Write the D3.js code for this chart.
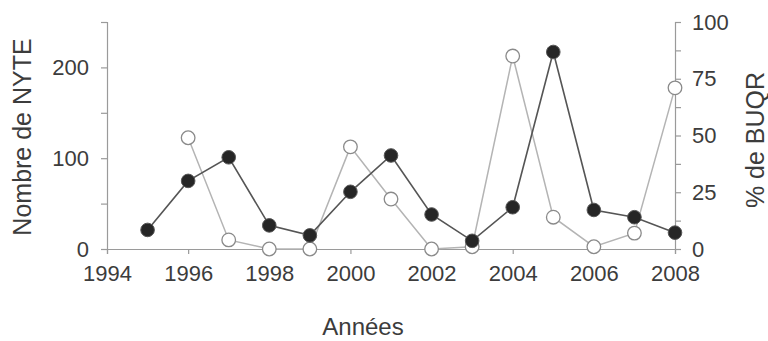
<!DOCTYPE html>
<html>
<head>
<meta charset="utf-8">
<script src="https://cdn.jsdelivr.net/npm/d3@7/dist/d3.min.js"></script>
<style>
  html, body { margin: 0; padding: 0; background: #fff; }
  svg { display: block; font-family: Arial, "Liberation Sans", sans-serif; }
</style>
</head>
<body>
<svg id="chart" width="768" height="341"></svg>
<script>
// Yearly series
const years = [1995, 1996, 1997, 1998, 1999, 2000, 2001, 2002, 2003, 2004, 2005, 2006, 2007, 2008];
const nyteCount = [21, 75, 101, 26, 15, 63, 103, 38, 9, 46, 217, 43, 35, 18];
const buqrYears = [1996, 1997, 1998, 1999, 2000, 2001, 2002, 2003, 2004, 2005, 2006, 2007, 2008];
const buqrPct = [49, 4, 0, 0, 45, 22, 0, 1, 85, 14, 1, 7, 71];

const xTicks = [1994, 1996, 1998, 2000, 2002, 2004, 2006, 2008];
const leftTicks = [0, 50, 100, 150, 200, 250];
const leftLabels = [0, 100, 200];
const rightTicks = [0, 12.5, 25, 37.5, 50, 62.5, 75, 87.5, 100];
const rightLabels = [0, 25, 50, 75, 100];

const svg = d3.select("#chart");
const plot = { left: 107, right: 675, top: 22, bottom: 249 };

const x = d3.scaleLinear().domain([1994, 2008]).range([plot.left, plot.right]);
const yL = d3.scaleLinear().domain([0, 250]).range([plot.bottom, plot.top]);
const yR = d3.scaleLinear().domain([0, 100]).range([plot.bottom, plot.top]);

const axisColor = "#9a9a9a";
const textColor = "#3c3c3c";

function styleAxis(g) {
  g.select(".domain").attr("stroke", axisColor).attr("stroke-width", 1.2);
  g.selectAll(".tick line").attr("stroke", axisColor).attr("stroke-width", 1.2);
  g.selectAll(".tick text").attr("fill", textColor).attr("font-size", 22);
}

// Bottom axis
svg.append("g")
  .attr("transform", `translate(0,${plot.bottom})`)
  .call(d3.axisBottom(x).tickValues(xTicks).tickFormat(d3.format("d")).tickSizeOuter(0).tickSize(5).tickPadding(11))
  .call(styleAxis);

// Left axis: minor ticks every 50, labels every 100
svg.append("g")
  .attr("transform", `translate(${plot.left},0)`)
  .call(d3.axisLeft(yL).tickValues(leftTicks)
    .tickFormat(d => leftLabels.includes(d) ? d : "").tickSizeOuter(0).tickSize(6).tickPadding(12))
  .call(styleAxis);

// Right axis
svg.append("g")
  .attr("transform", `translate(${plot.right},0)`)
  .call(d3.axisRight(yR).tickValues(rightTicks)
    .tickFormat(d => rightLabels.includes(d) ? d : "").tickSizeOuter(0).tickSize(6).tickPadding(11))
  .call(styleAxis);

// Axis titles
svg.append("text")
  .attr("transform", `translate(31,137) rotate(-90)`)
  .attr("text-anchor", "middle")
  .attr("font-size", 25)
  .attr("fill", textColor)
  .text("Nombre de NYTE");

svg.append("text")
  .attr("transform", `translate(764,140) rotate(-90)`)
  .attr("text-anchor", "middle")
  .attr("font-size", 25)
  .attr("fill", textColor)
  .text("% de BUQR");

svg.append("text")
  .attr("x", 363)
  .attr("y", 335)
  .attr("text-anchor", "middle")
  .attr("font-size", 24)
  .attr("fill", textColor)
  .text("Années");

// BUQR percentage: open circles, light line
const buqrData = buqrYears.map((yr, i) => ({ yr, v: buqrPct[i] }));
svg.append("path")
  .datum(buqrData)
  .attr("fill", "none")
  .attr("stroke", "#b4b4b4")
  .attr("stroke-width", 1.5)
  .attr("d", d3.line().x(d => x(d.yr)).y(d => yR(d.v)));

// NYTE counts: filled circles, dark line
const nyteData = years.map((yr, i) => ({ yr, v: nyteCount[i] }));
svg.append("path")
  .datum(nyteData)
  .attr("fill", "none")
  .attr("stroke", "#555")
  .attr("stroke-width", 1.6)
  .attr("d", d3.line().x(d => x(d.yr)).y(d => yL(d.v)));

svg.append("g").selectAll("circle")
  .data(buqrData)
  .join("circle")
  .attr("cx", d => x(d.yr))
  .attr("cy", d => yR(d.v))
  .attr("r", 6.8)
  .attr("fill", "#fff")
  .attr("stroke", "#8a8a8a")
  .attr("stroke-width", 1.3);

svg.append("g").selectAll("circle")
  .data(nyteData)
  .join("circle")
  .attr("cx", d => x(d.yr))
  .attr("cy", d => yL(d.v))
  .attr("r", 6.8)
  .attr("fill", "#262626")
  .attr("stroke", "#555")
  .attr("stroke-width", 1);
</script>
</body>
</html>
